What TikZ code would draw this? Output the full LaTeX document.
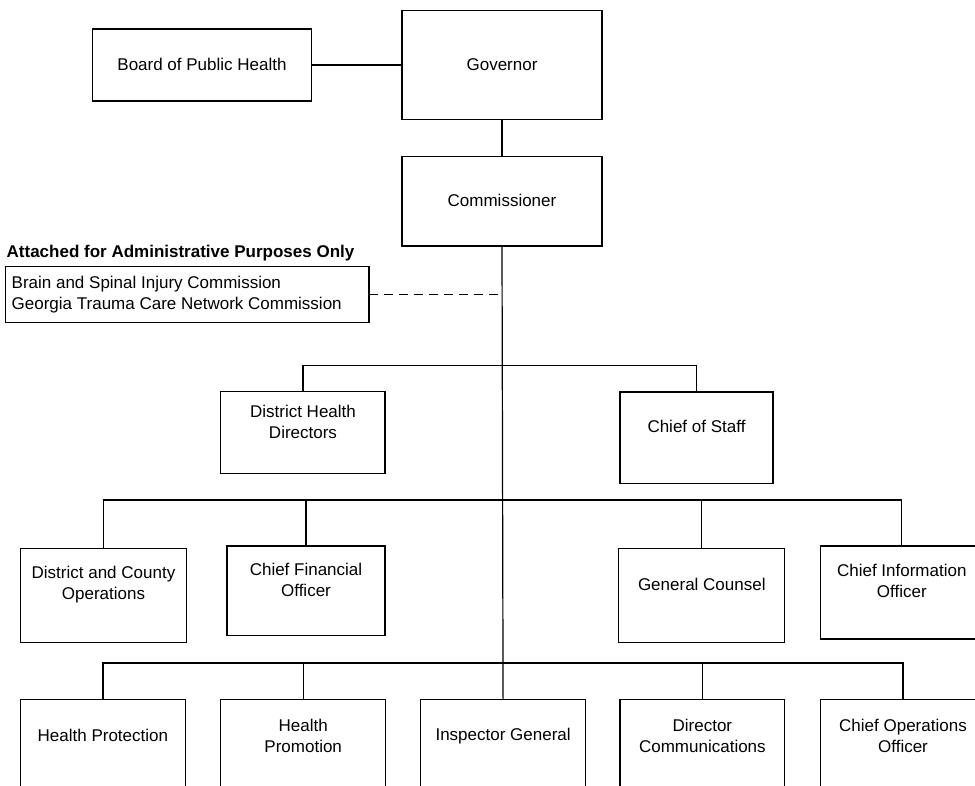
\documentclass[tikz,border=0pt]{standalone}
\usepackage{fontspec}
\setmainfont{Liberation Sans}
\begin{document}
\begin{tikzpicture}[x=1pt,y=-1pt,
  box/.style={draw, rectangle, anchor=north west, inner sep=0pt, outer sep=0pt, line width=1.2pt},
  txt/.style={align=center, inner sep=0pt, font=\fontsize{17}{21}\selectfont},
  conn/.style={line width=1.2pt}]
\useasboundingbox (0,0) rectangle (975,786);
\clip (0,0) rectangle (975,786);

% boxes
\node[box, minimum width=218.4pt, minimum height=72pt] (board) at (92.8,29) {};
\node[box, minimum width=200pt, minimum height=108.6pt] (gov) at (402,10.7) {};
\node[box, minimum width=200pt, minimum height=89.3pt] (comm) at (402,156.7) {};
\node[box, minimum width=363.2pt, minimum height=55.6pt] (att) at (5.8,266.7) {};
\node[box, minimum width=164.2pt, minimum height=81.6pt] (dhd) at (220.8,391.7) {};
\node[box, minimum width=153pt, minimum height=91.3pt] (cos) at (620,392) {};
\node[box, minimum width=166pt, minimum height=93.6pt] (dco) at (20.5,548.7) {};
\node[box, minimum width=158pt, minimum height=89.7pt] (cfo) at (227,546) {};
\node[box, minimum width=166pt, minimum height=93.6pt] (gc) at (618.8,548.7) {};
\node[box, minimum width=163pt, minimum height=93pt] (cio) at (820.3,546) {};
\node[box, minimum width=164.8pt, minimum height=110pt] (hp) at (20.5,699.3) {};
\node[box, minimum width=164.8pt, minimum height=110pt] (hpr) at (220.8,699.3) {};
\node[box, minimum width=165.4pt, minimum height=110pt] (ig) at (420.4,699.3) {};
\node[box, minimum width=164.8pt, minimum height=110pt] (dc) at (620,699.3) {};
\node[box, minimum width=165.4pt, minimum height=110pt] (coo) at (820.3,699.3) {};

% texts
\node[txt] (tboard) at (202,64.5) {Board of Public Health};
\node[txt] (tgov) at (502,64.5) {Governor};
\node[txt] (tcomm) at (502,200.5) {Commissioner};
\node[txt, anchor=west, font=\fontsize{17}{21}\selectfont\bfseries] (thead) at (6.5,253) {Attached for Administrative Purposes Only};
\node[txt, anchor=west, align=left] (tatt) at (11.5,294.5) {Brain and Spinal Injury Commission\\Georgia Trauma Care Network Commission};
\node[txt] (tdhd) at (303,421.5) {District Health\\Directors};
\node[txt] (tcos) at (696.5,426) {Chief of Staff};
\node[txt] (tdco) at (103.5,584.8) {District and County\\Operations};
\node[txt] (tcfo) at (306,579.7) {Chief Financial\\Officer};
\node[txt] (tgc) at (701.8,584.3) {General Counsel};
\node[txt] (tcio) at (901.8,581.2) {Chief Information\\Officer};
\node[txt] (thp) at (102.9,735.7) {Health Protection};
\node[txt] (thpr) at (303.2,736.3) {Health\\Promotion};
\node[txt] (tig) at (503.1,735.7) {Inspector General};
\node[txt] (tdc) at (702.4,736.3) {Director\\Communications};
\node[txt] (tcoo) at (903,736.3) {Chief Operations\\Officer};

% junctions
\coordinate (j1) at (503,365.7);
\coordinate (j2) at (503,500);
\coordinate (j3) at (503,663);

% connectors
\draw[conn] (board.east) -- (gov.west);
\draw[conn] (gov.south) -- (comm.south |- gov.south) -- (comm.north);
\draw[conn] (comm.south) -- (j3);
\draw[conn, dashed, dash pattern=on 9pt off 6pt] (att.east) -- (att.east -| j1);
\draw[conn] (dhd.north) |- (j1) -| (cos.north);
\draw[conn] (dco.north) |- (j2);
\draw[conn] (cfo.north) |- (j2);
\draw[conn] (gc.north) |- (j2);
\draw[conn] (cio.north) |- (j2);
\draw[conn] (hp.north) |- (j3);
\draw[conn] (hpr.north) |- (j3);
\draw[conn] (ig.north) -- (j3);
\draw[conn] (dc.north) |- (j3);
\draw[conn] (coo.north) |- (j3);
\end{tikzpicture}
\end{document}
